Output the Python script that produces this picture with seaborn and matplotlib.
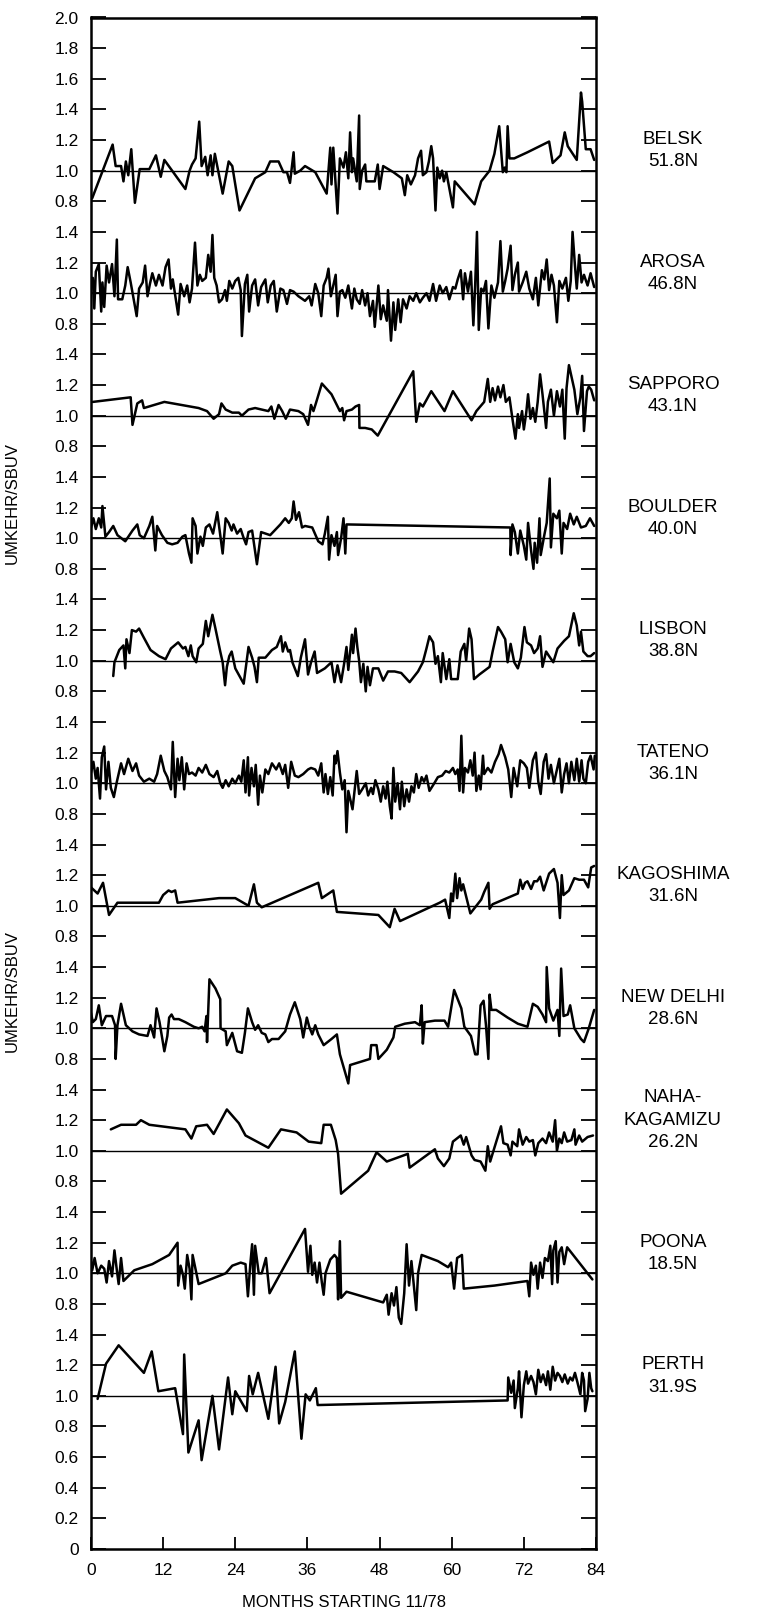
import matplotlib
matplotlib.use("Agg")
import matplotlib.pyplot as plt
import numpy as np
import pandas as pd
import seaborn as sns

# Estaciones y latitudes
stations = ["BELSK", "AROSA", "SAPPORO", "BOULDER", "LISBON", "TATENO",
            "KAGOSHIMA", "NEW DELHI", "NAHA-\nKAGAMIZU", "POONA", "PERTH"]
latitudes = ["51.8N", "46.8N", "43.1N", "40.0N", "38.8N", "36.1N",
             "31.6N", "28.6N", "26.2N", "18.5N", "31.9S"]

# (mes, UMKEHR/SBUV)
belsk = [(0.2,0.82),(3.6,1.17),(4.1,1.03),(5.0,1.03),(5.4,0.93),(5.8,1.06),(6.2,0.97),(6.7,1.14),(7.3,0.79),(8.1,1.01),(9.7,1.01),(10.8,1.10),(11.6,0.96),(12.2,1.07),(15.7,0.88),(16.4,1.00),(16.8,1.04),(17.4,1.08),(18.0,1.32),(18.4,1.03),(19.0,1.09),(19.4,0.97),(19.9,1.10),(20.2,0.97),(20.6,1.11),(21.9,0.85),(22.9,1.06),(23.5,1.03),(24.7,0.74),(27.3,0.95),(29.0,0.99),(29.8,1.06),(31.2,1.06),(32.0,0.99),(32.6,0.99),(33.1,0.92),(33.7,1.12),(33.9,0.98),(34.8,1.00),(35.6,1.03),(37.3,0.99),(39.2,0.85),(39.8,1.15),(40.0,0.91),(40.3,1.15),(41.0,0.72),(41.4,1.08),(42.0,1.02),(42.4,1.12),(42.8,0.95),(43.1,1.25),(43.4,0.99),(43.6,1.08),(44.2,0.93),(44.6,1.36),(44.7,0.88),(45.1,1.00),(45.6,1.04),(45.8,0.93),(47.2,0.93),(47.7,1.04),(48.0,0.88),(48.6,1.03),(50.3,0.99),(51.7,0.95),(52.2,0.84),(52.6,0.97),(53.2,0.91),(53.9,0.97),(54.4,1.08),(54.9,1.13),(55.2,0.97),(55.8,0.99),(56.2,1.06),(56.6,1.16),(56.9,1.08),(57.3,0.74),(57.6,1.02),(58.0,0.95),(58.4,1.00),(58.7,0.93),(59.1,0.99),(60.2,0.76),(60.5,0.93),(63.8,0.78),(64.9,0.93),(66.3,1.00),(67.1,1.11),(67.9,1.29),(68.5,0.99),(68.8,1.02),(69.1,0.99),(69.3,1.29),(69.6,1.08),(70.4,1.08),(72.6,1.12),(76.2,1.19),(76.8,1.05),(78.1,1.10),(78.8,1.25),(79.3,1.16),(80.8,1.07),(81.5,1.51),(81.7,1.45),(82.3,1.14),(83.1,1.14),(83.7,1.07)]

arosa = [(0.0,1.05),(0.3,1.10),(0.55,0.90),(0.8,1.14),(1.3,1.19),(1.7,0.88),(1.9,1.07),(2.2,0.91),(2.6,1.18),(3.0,1.07),(3.5,1.19),(3.9,0.98),(4.3,1.35),(4.5,0.96),(5.2,0.96),(5.7,1.05),(6.1,1.17),(6.6,1.07),(7.2,0.94),(7.6,0.85),(8.0,1.03),(8.6,1.07),(9.0,1.18),(9.4,0.98),(9.8,1.06),(10.2,1.13),(10.8,1.05),(11.3,1.12),(11.9,1.05),(12.4,1.17),(12.9,1.22),(13.3,1.03),(13.6,1.09),(14.1,0.96),(14.5,0.86),(14.9,1.06),(15.5,0.98),(16.0,1.05),(16.4,0.94),(16.8,1.03),(17.3,1.33),(17.7,1.05),(18.1,1.12),(18.5,1.08),(19.1,1.10),(19.5,1.25),(19.9,1.14),(20.2,1.38),(20.5,1.10),(20.9,1.05),(21.3,0.94),(21.8,0.96),(22.3,1.02),(22.6,0.95),(23.0,1.08),(23.5,1.03),(24.0,1.08),(24.5,1.10),(24.9,1.02),(25.1,0.72),(25.6,1.06),(26.0,1.12),(26.3,0.88),(26.8,1.05),(27.3,1.09),(27.8,0.92),(28.3,1.04),(29.0,1.09),(29.4,0.94),(29.9,1.05),(30.4,1.08),(30.9,0.88),(31.5,1.03),(32.0,1.02),(32.6,0.93),(33.1,1.02),(33.7,1.01),(34.5,0.98),(35.6,0.95),(36.3,0.98),(36.7,0.92),(37.3,1.06),(37.8,1.00),(38.3,0.85),(38.7,1.05),(39.2,1.10),(39.5,1.16),(39.9,0.98),(40.3,1.05),(40.7,1.12),(41.0,0.85),(41.4,1.01),(41.8,1.02),(42.3,0.97),(42.8,1.05),(43.4,0.90),(43.8,1.03),(44.2,0.96),(44.7,0.93),(45.1,1.02),(45.6,0.92),(46.0,1.00),(46.4,0.85),(46.9,0.95),(47.2,0.78),(47.8,1.05),(48.2,0.83),(48.6,0.92),(49.2,0.82),(49.4,1.02),(49.9,0.69),(50.3,0.94),(50.6,0.76),(51.1,0.96),(51.5,0.81),(51.9,0.96),(52.5,0.90),(53.0,0.98),(53.6,0.95),(54.1,1.00),(54.7,0.94),(55.2,0.97),(55.8,1.00),(56.3,0.95),(56.9,1.06),(57.4,0.95),(58.0,1.05),(58.5,1.00),(59.1,1.04),(59.6,0.96),(60.2,1.04),(60.6,1.03),(61.0,1.09),(61.5,1.15),(61.9,0.96),(62.2,1.13),(62.7,1.01),(63.2,1.14),(63.6,0.79),(63.9,1.05),(64.2,1.40),(64.5,0.76),(64.9,1.03),(65.3,1.01),(65.7,1.08),(66.1,0.77),(66.6,1.05),(67.1,0.97),(67.7,1.07),(68.1,1.34),(68.5,1.01),(68.9,1.08),(69.3,1.16),(69.8,1.31),(70.1,1.02),(70.5,1.12),(71.0,1.20),(71.2,1.01),(71.8,1.07),(72.4,1.14),(72.9,1.03),(73.5,0.96),(74.0,1.10),(74.4,0.92),(75.0,1.15),(75.4,1.09),(75.8,1.22),(76.2,1.02),(76.6,1.12),(77.0,1.05),(77.5,0.81),(77.9,1.08),(78.4,1.03),(79.0,1.10),(79.4,0.95),(79.8,1.08),(80.1,1.40),(80.5,1.18),(80.8,1.03),(81.2,1.25),(81.6,1.07),(82.0,1.12),(82.6,1.05),(83.1,1.13),(83.7,1.04)]

sapporo = [(0.3,1.09),(6.6,1.12),(6.9,0.94),(7.7,1.08),(8.5,1.10),(8.8,1.05),(12.2,1.09),(17.9,1.05),(19.3,1.03),(20.4,0.98),(21.3,1.01),(21.7,1.08),(22.4,1.04),(23.5,1.02),(24.6,1.02),(25.1,1.00),(26.2,1.04),(27.3,1.05),(29.5,1.03),(30.0,1.06),(30.5,0.98),(31.2,1.07),(31.8,1.03),(32.4,0.98),(33.1,1.04),(34.5,1.03),(35.3,1.01),(36.1,0.94),(36.6,1.07),(37.0,1.03),(37.4,1.08),(38.4,1.21),(40.0,1.14),(41.4,1.03),(41.8,1.05),(42.1,0.97),(42.5,1.03),(43.4,1.04),(44.0,1.06),(44.6,1.07),(44.65,0.92),(45.6,0.92),(46.7,0.91),(47.7,0.87),(53.6,1.29),(54.1,0.96),(54.7,1.08),(55.2,1.06),(56.6,1.16),(58.8,1.03),(60.2,1.16),(63.3,0.97),(64.1,1.03),(65.4,1.09),(66.0,1.24),(66.4,1.09),(66.8,1.18),(67.2,1.10),(67.7,1.19),(68.1,1.12),(68.6,1.20),(69.0,1.09),(69.6,1.12),(70.1,0.98),(70.6,0.85),(71.0,1.01),(71.2,0.92),(71.7,1.03),(72.0,0.91),(72.4,1.02),(72.7,1.14),(73.1,0.98),(73.5,1.05),(73.9,0.96),(74.3,1.09),(74.7,1.27),(75.1,1.14),(75.7,0.92),(76.0,1.09),(76.5,1.17),(77.0,1.00),(77.5,1.16),(78.0,1.06),(78.4,1.17),(78.8,0.85),(79.1,1.18),(79.5,1.33),(80.4,1.17),(80.9,1.01),(81.4,1.12),(81.7,1.26),(82.0,0.90),(82.5,1.16),(82.8,1.19),(83.2,1.17),(83.7,1.10)]

boulder = [(0.0,1.07),(0.4,1.13),(0.8,1.06),(1.3,1.13),(1.7,1.07),(1.9,1.21),(2.4,1.01),(3.0,1.04),(3.7,1.08),(4.4,1.02),(5.7,0.98),(6.9,1.05),(7.7,1.09),(8.1,1.02),(8.8,1.00),(9.7,1.08),(10.2,1.14),(10.7,0.92),(11.0,1.08),(11.8,1.02),(12.7,0.97),(13.5,0.96),(14.4,0.97),(15.2,1.01),(15.7,1.02),(16.3,0.90),(16.7,0.84),(16.9,1.13),(17.4,1.08),(17.7,0.90),(18.2,1.01),(18.6,0.95),(19.1,1.07),(19.7,1.09),(20.3,1.03),(21.0,1.17),(21.5,1.02),(21.9,0.90),(22.4,1.13),(22.9,1.10),(23.4,1.05),(23.7,1.09),(24.3,1.03),(24.9,1.06),(25.4,1.00),(25.8,0.96),(26.2,1.04),(26.8,1.05),(27.6,0.83),(28.3,1.04),(29.8,1.02),(31.5,1.09),(32.3,1.13),(32.9,1.10),(33.4,1.13),(33.7,1.24),(34.1,1.12),(34.6,1.17),(35.1,1.07),(35.6,1.08),(36.8,1.07),(37.8,0.98),(38.5,0.96),(38.9,1.03),(39.4,1.14),(39.6,0.86),(40.0,1.02),(40.5,0.95),(40.9,1.04),(41.1,0.89),(41.6,1.00),(42.0,1.13),(42.3,0.90),(42.5,1.09),(69.75,1.07),(69.8,0.89),(70.1,1.09),(70.5,1.04),(71.0,0.90),(71.4,1.05),(72.0,0.95),(72.4,0.86),(72.7,1.10),(73.2,0.92),(73.6,0.80),(73.8,0.97),(74.2,0.84),(74.6,1.13),(74.8,0.89),(75.4,1.02),(75.8,1.10),(76.3,1.39),(76.5,0.94),(76.9,1.16),(77.5,1.13),(77.9,1.18),(78.3,0.90),(78.6,1.10),(79.2,1.06),(79.7,1.16),(80.3,1.09),(80.8,1.14),(81.5,1.07),(82.3,1.08),(83.0,1.13),(83.7,1.08)]

lisbon = [(3.7,0.90),(3.9,0.99),(4.7,1.07),(5.4,1.10),(5.7,0.95),(5.9,1.14),(6.4,1.05),(6.8,1.20),(7.5,1.19),(8.0,1.21),(8.8,1.15),(9.9,1.07),(11.3,1.03),(12.4,1.01),(13.3,1.08),(14.5,1.12),(15.3,1.08),(15.7,1.09),(16.2,1.03),(16.6,1.10),(16.9,1.03),(17.5,0.99),(17.9,1.08),(18.6,1.11),(19.1,1.26),(19.5,1.16),(20.2,1.30),(20.7,1.21),(21.5,1.06),(21.9,0.99),(22.3,0.84),(22.6,0.96),(23.0,1.03),(23.4,1.06),(24.0,0.95),(25.4,0.85),(26.2,1.09),(26.8,1.02),(27.2,0.96),(27.6,0.86),(27.9,1.02),(29.0,1.02),(30.1,1.07),(30.9,1.09),(31.6,1.16),(31.9,1.06),(32.3,1.12),(32.8,1.06),(33.1,1.07),(33.5,0.99),(33.9,0.95),(34.4,0.90),(34.9,1.02),(35.6,1.14),(36.1,0.91),(36.6,0.99),(37.2,1.06),(37.6,0.92),(38.9,0.95),(40.0,0.99),(40.5,0.86),(41.0,0.97),(41.6,0.86),(42.1,0.98),(42.5,1.09),(42.8,0.94),(43.4,1.17),(43.6,1.05),(44.0,1.21),(44.3,1.09),(44.6,1.00),(44.9,0.86),(45.3,0.98),(45.7,0.80),(46.0,0.96),(46.4,0.84),(46.9,0.95),(47.8,0.95),(48.6,0.87),(49.4,0.93),(50.5,0.93),(51.6,0.92),(53.0,0.86),(54.4,0.93),(55.2,0.99),(55.8,1.08),(56.3,1.16),(56.9,1.12),(57.3,0.98),(57.7,1.03),(58.2,0.86),(58.5,1.05),(59.1,0.88),(59.6,1.01),(59.9,0.88),(61.0,0.88),(61.5,1.06),(62.1,1.11),(62.4,1.00),(62.9,1.21),(63.3,1.14),(63.7,0.88),(64.6,0.91),(66.3,0.96),(66.8,1.06),(67.7,1.22),(68.2,1.19),(68.9,1.14),(69.3,0.99),(69.8,1.11),(70.4,0.99),(71.0,0.95),(71.5,1.02),(72.1,1.22),(72.5,1.12),(73.2,1.10),(73.7,1.05),(74.3,1.08),(74.7,1.16),(75.1,0.96),(75.7,1.06),(76.2,1.03),(76.9,0.99),(77.6,1.08),(78.7,1.13),(79.5,1.16),(80.3,1.31),(80.8,1.23),(81.2,1.10),(81.5,1.19),(81.9,1.06),(82.6,1.03),(83.1,1.03),(83.7,1.05)]

tateno = [(0.0,1.07),(0.4,1.14),(0.8,1.03),(1.1,1.10),(1.5,0.90),(1.8,1.17),(2.2,1.24),(2.5,0.96),(2.9,1.14),(3.3,0.97),(3.8,0.91),(4.3,1.01),(5.0,1.13),(5.5,1.06),(6.2,1.16),(6.9,1.08),(7.5,1.13),(8.0,1.05),(8.8,1.01),(9.7,1.03),(10.5,1.01),(11.0,1.06),(11.6,1.18),(12.2,1.08),(12.7,1.04),(13.3,0.96),(13.6,1.27),(14.0,0.91),(14.4,1.16),(14.7,1.02),(15.1,1.17),(15.5,0.96),(15.9,1.13),(16.3,1.06),(16.8,1.07),(17.4,1.05),(17.9,1.10),(18.5,1.07),(19.1,1.12),(19.7,1.06),(20.4,1.04),(21.0,1.08),(21.5,1.00),(21.9,0.97),(22.4,1.02),(22.9,0.98),(23.5,1.03),(24.0,1.00),(24.6,1.05),(25.0,1.01),(25.4,1.15),(25.7,0.94),(26.1,1.17),(26.3,0.92),(26.7,1.10),(27.1,0.98),(27.4,1.12),(27.8,0.86),(28.1,1.05),(28.5,0.94),(29.0,1.09),(29.5,1.06),(30.1,1.13),(30.8,1.09),(31.3,1.13),(31.9,1.06),(32.3,1.12),(32.8,0.97),(33.3,1.14),(33.9,1.05),(34.5,1.04),(35.3,1.06),(36.1,1.09),(36.6,1.10),(37.3,1.09),(37.8,1.05),(38.3,1.13),(38.7,0.94),(39.0,1.06),(39.4,0.93),(39.8,1.04),(40.2,0.92),(40.5,1.18),(40.7,1.13),(41.0,1.21),(41.4,1.07),(41.8,0.96),(42.2,1.02),(42.5,0.68),(42.8,0.95),(43.2,0.88),(43.5,0.83),(43.8,0.94),(44.2,1.08),(44.6,0.93),(45.1,0.96),(45.7,1.00),(46.1,0.92),(46.6,0.97),(46.9,0.93),(47.3,1.02),(47.8,0.96),(48.2,0.88),(48.6,0.98),(49.0,0.90),(49.3,1.01),(49.7,0.85),(50.0,0.77),(50.3,1.10),(50.6,0.88),(51.0,1.00),(51.4,0.83),(51.7,1.01),(52.1,0.85),(52.5,0.96),(52.9,0.88),(53.3,0.98),(53.7,0.94),(54.1,1.06),(54.5,0.97),(55.0,1.04),(55.4,1.01),(55.8,1.05),(56.3,0.95),(57.1,1.00),(57.7,1.04),(58.4,1.05),(59.0,1.08),(59.6,1.07),(60.2,1.10),(60.6,1.06),(61.0,1.09),(61.3,0.95),(61.6,1.31),(61.9,0.94),(62.2,1.10),(62.7,1.07),(63.1,1.15),(63.5,1.05),(63.8,1.20),(64.1,0.95),(64.5,1.05),(64.8,0.96),(65.2,1.18),(65.4,1.06),(66.0,1.10),(66.6,1.07),(67.2,1.14),(67.8,1.19),(68.2,1.25),(68.9,1.17),(69.4,1.09),(69.9,0.91),(70.3,1.10),(70.9,0.98),(71.4,1.15),(72.0,1.13),(72.5,1.10),(72.9,0.97),(73.5,1.15),(74.0,1.20),(74.4,1.01),(74.8,0.93),(75.3,1.14),(75.7,1.19),(76.1,1.03),(76.5,1.12),(77.0,1.00),(77.5,1.09),(77.9,1.16),(78.3,0.94),(78.7,1.06),(79.1,1.13),(79.5,1.00),(79.9,1.14),(80.4,1.02),(80.8,1.16),(81.2,1.01),(81.6,1.15),(81.9,1.03),(82.3,1.00),(82.7,1.14),(83.1,1.18),(83.6,1.09),(83.8,1.18)]

kagoshima = [(0.0,1.12),(1.1,1.08),(2.0,1.15),(3.0,0.94),(4.4,1.02),(7.5,1.02),(11.3,1.02),(12.0,1.07),(12.9,1.10),(13.4,1.09),(14.0,1.10),(14.4,1.02),(21.3,1.05),(24.0,1.05),(26.2,1.00),(27.1,1.14),(27.6,1.02),(28.4,0.99),(37.8,1.15),(38.4,1.05),(40.3,1.10),(40.9,0.96),(47.8,0.94),(49.7,0.86),(50.5,0.98),(51.4,0.90),(58.0,1.02),(58.9,1.04),(59.6,0.92),(59.9,1.08),(60.2,1.03),(60.6,1.21),(60.9,1.05),(61.3,1.18),(61.6,1.10),(61.9,1.14),(63.1,0.95),(64.9,1.04),(65.4,1.09),(66.1,1.15),(66.3,0.98),(66.8,1.01),(71.0,1.08),(71.4,1.17),(71.8,1.11),(72.2,1.15),(72.6,1.16),(73.2,1.11),(73.7,1.16),(74.2,1.16),(74.7,1.19),(75.3,1.10),(76.2,1.21),(77.0,1.24),(77.6,1.15),(78.0,0.92),(78.3,1.20),(78.6,1.07),(79.5,1.10),(80.4,1.18),(81.2,1.17),(82.0,1.17),(82.7,1.12),(83.2,1.25),(83.7,1.26)]

new_delhi = [(0.0,1.10),(0.3,1.04),(0.8,1.06),(1.3,1.15),(1.8,1.02),(2.5,1.08),(3.5,1.08),(4.0,1.02),(4.1,0.80),(4.4,1.02),(5.0,1.16),(5.8,1.02),(6.9,0.98),(8.0,0.96),(9.4,0.95),(9.9,1.02),(10.5,0.94),(10.9,1.13),(11.4,1.04),(12.2,0.85),(12.7,0.95),(13.0,1.07),(13.4,1.09),(13.8,1.06),(14.6,1.06),(15.7,1.04),(17.1,1.01),(17.9,1.00),(18.5,1.01),(18.9,0.98),(19.2,1.08),(19.3,0.91),(19.7,1.32),(20.7,1.26),(21.5,1.19),(21.55,1.00),(22.4,0.98),(22.6,0.89),(23.5,0.97),(24.3,0.85),(25.1,0.84),(25.6,0.97),(26.1,1.13),(26.8,1.04),(27.3,0.99),(27.8,1.02),(28.4,0.97),(29.0,0.96),(29.5,0.91),(30.1,0.93),(31.2,0.93),(32.3,0.98),(33.1,1.09),(33.9,1.17),(34.8,1.06),(35.3,0.94),(35.9,1.07),(36.3,1.01),(36.8,0.96),(37.3,1.02),(37.8,0.96),(38.7,0.89),(40.0,0.93),(40.9,0.96),(41.4,0.83),(42.8,0.64),(43.1,0.76),(46.4,0.80),(46.6,0.89),(47.5,0.89),(47.8,0.80),(49.2,0.86),(50.3,0.94),(50.6,1.01),(52.2,1.03),(53.9,1.04),(54.7,1.02),(55.0,1.15),(55.2,0.90),(55.5,1.04),(57.2,1.05),(58.8,1.05),(59.4,1.01),(60.4,1.25),(61.6,1.13),(62.1,1.01),(63.2,0.95),(63.9,0.83),(64.3,0.83),(64.8,1.15),(65.3,1.18),(65.7,1.02),(66.1,0.80),(66.3,1.22),(66.6,1.12),(67.4,1.12),(69.3,1.07),(71.0,1.03),(72.6,1.01),(73.5,1.16),(74.3,1.14),(75.1,1.09),(75.7,1.04),(75.8,1.40),(76.2,1.13),(76.9,1.05),(77.6,1.12),(77.9,0.95),(78.2,1.39),(78.6,1.08),(79.3,1.09),(79.7,1.15),(80.4,1.00),(81.5,0.93),(82.0,0.91),(82.8,1.00),(83.7,1.12)]

naha = [(3.3,1.14),(5.0,1.17),(7.5,1.17),(8.3,1.20),(9.7,1.17),(15.7,1.14),(16.7,1.08),(17.5,1.16),(19.3,1.17),(20.4,1.11),(22.6,1.27),(24.6,1.18),(25.7,1.10),(29.5,1.02),(31.6,1.14),(34.2,1.12),(36.2,1.06),(38.3,1.05),(38.7,1.17),(39.9,1.17),(40.7,1.07),(41.1,0.98),(41.6,0.72),(46.1,0.87),(47.5,0.99),(49.2,0.93),(52.7,0.98),(53.0,0.89),(57.2,1.01),(57.7,0.95),(58.7,0.90),(59.6,0.95),(60.2,1.06),(61.5,1.10),(62.0,1.04),(62.4,1.09),(63.3,0.97),(63.8,0.94),(64.8,0.93),(65.6,0.87),(66.0,1.03),(66.4,0.93),(67.1,1.02),(68.2,1.16),(68.6,1.05),(69.3,1.04),(69.8,0.97),(70.1,1.06),(70.9,1.03),(71.2,1.14),(71.8,1.04),(72.4,1.09),(72.9,1.06),(73.5,1.07),(73.9,0.97),(74.4,1.05),(75.1,1.08),(75.7,1.05),(76.2,1.12),(76.8,1.06),(77.2,1.20),(77.5,1.00),(77.9,1.08),(78.3,1.05),(78.7,1.12),(79.2,1.06),(79.9,1.07),(80.4,1.14),(80.6,1.04),(81.2,1.10),(81.7,1.06),(82.6,1.09),(83.5,1.10)]

poona = [(0.0,1.08),(0.2,1.02),(0.6,1.10),(1.1,1.00),(1.7,1.05),(2.2,1.03),(2.6,0.94),(3.0,1.08),(3.5,0.98),(3.9,1.15),(4.3,1.02),(4.6,0.93),(5.0,1.10),(5.4,0.95),(7.2,1.02),(10.2,1.06),(13.0,1.12),(14.4,1.20),(14.5,0.92),(14.9,1.05),(15.3,0.99),(15.6,0.90),(16.0,1.12),(16.4,1.03),(16.7,0.83),(16.9,1.12),(17.9,0.93),(22.4,1.00),(23.5,1.05),(24.9,1.07),(25.7,1.06),(26.1,0.85),(26.5,1.06),(26.8,1.19),(27.1,0.86),(27.3,1.18),(27.9,1.00),(28.4,1.00),(29.1,1.10),(29.7,0.87),(35.6,1.29),(36.1,1.01),(36.5,1.18),(36.8,0.99),(37.2,1.07),(37.6,0.94),(38.0,1.07),(38.4,0.94),(38.7,0.86),(39.0,1.00),(39.8,1.09),(40.5,1.12),(40.9,1.10),(41.1,0.83),(41.4,1.21),(41.6,0.84),(42.5,0.88),(48.6,0.81),(49.2,0.86),(49.5,0.73),(50.0,0.87),(50.4,0.79),(50.8,0.91),(51.2,0.71),(51.6,0.67),(52.1,0.87),(52.5,1.19),(52.9,0.92),(53.3,1.08),(53.7,0.92),(54.1,0.76),(54.4,1.00),(55.0,1.12),(57.7,1.08),(59.4,1.04),(59.9,1.07),(60.4,0.90),(60.9,1.10),(61.7,1.12),(62.0,0.90),(67.1,0.92),(72.6,0.95),(72.9,0.85),(73.2,1.07),(73.6,0.99),(74.0,1.05),(74.3,0.90),(74.7,1.07),(75.1,0.97),(75.5,1.10),(76.0,1.08),(76.4,1.18),(76.7,0.93),(76.9,1.15),(77.3,1.21),(77.6,0.94),(77.9,1.14),(78.3,1.17),(78.7,1.06),(79.2,1.17),(83.4,0.96)]

perth = [(1.1,0.98),(2.5,1.21),(4.6,1.33),(8.8,1.15),(10.1,1.29),(11.2,1.03),(14.0,1.05),(15.3,0.75),(15.5,1.27),(16.2,0.63),(17.9,0.84),(18.4,0.58),(20.2,1.00),(21.3,0.65),(22.8,1.12),(23.5,0.88),(24.0,1.03),(25.9,0.90),(26.3,1.13),(26.9,1.01),(27.8,1.15),(29.5,0.85),(30.7,1.19),(31.3,0.82),(32.3,0.96),(33.9,1.29),(35.0,0.72),(35.7,1.01),(36.4,0.97),(37.4,1.05),(37.7,0.94),(69.3,0.97),(69.4,1.12),(69.9,1.02),(70.3,1.10),(70.5,0.92),(71.0,1.05),(71.2,1.16),(71.6,0.86),(72.0,1.07),(72.4,1.16),(72.7,1.08),(73.2,1.13),(73.6,1.09),(74.0,1.01),(74.4,1.17),(74.8,1.09),(75.2,1.14),(75.7,1.07),(76.0,1.16),(76.4,1.04),(76.8,1.19),(77.2,1.10),(77.6,1.15),(78.0,1.13),(78.4,1.09),(78.8,1.14),(79.3,1.08),(79.7,1.12),(80.1,1.10),(80.5,1.15),(80.9,1.09),(81.4,1.01),(81.7,1.15),(82.0,1.10),(82.2,0.90),(82.6,0.98),(82.9,1.15),(83.2,1.05),(83.4,1.03)]

station_data = [belsk, arosa, sapporo, boulder, lisbon, tateno,
                kagoshima, new_delhi, naha, poona, perth]

# etiquetas del eje y: cada panel repite 1.4 ... 0.8
ytick_labels = (["2.0", "1.8", "1.6", "1.4", "1.2", "1.0", "0.8"]
                + ["1.4", "1.2", "1.0", "0.8"] * 10
                + ["0.6", "0.4", "0.2", "0"])
xticks = [0, 12, 24, 36, 48, 60, 72, 84]

panel_step = 0.8  # desplazamiento vertical entre estaciones

sns.set_style("ticks")
plt.rcParams['font.family'] = ['Liberation Sans', 'DejaVu Sans']
plt.rcParams['text.color'] = 'black'
plt.rcParams['axes.labelcolor'] = 'black'
plt.rcParams['xtick.color'] = 'black'
plt.rcParams['ytick.color'] = 'black'
plt.rcParams['axes.edgecolor'] = 'black'

# tabla larga con el desplazamiento aplicado
rows = []
for k, (name, pares) in enumerate(zip(stations, station_data)):
    for mes, val in pares:
        rows.append({'estacion': name, 'mes': mes, 'y': val - panel_step * k})
df = pd.DataFrame(rows)

fig = plt.figure(figsize=(7.62, 16.18), dpi=100)
ax = fig.add_axes([91 / 762, 1 - 1549 / 1618, 505 / 762, (1549 - 17.5) / 1618])

sns.lineplot(data=df, x='mes', y='y', units='estacion', estimator=None,
             sort=False, color='black', linewidth=1.8, ax=ax)

# lineas de referencia 1.0 y nombres de estacion
for k, (name, lat) in enumerate(zip(stations, latitudes)):
    base = 1.0 - panel_step * k
    ax.axhline(base, color='black', linewidth=1.0, zorder=1)
    label = name + "\n" + lat
    ax.text(96.8, base + (0.20 if "\n" in name else 0.13), label,
            ha='center', va='center', fontsize=13.5, linespacing=1.4,
            clip_on=False)

ax.set_xlim(0, 84)
ax.set_ylim(-8.0, 2.0)
yt = np.round(np.arange(2.0, -8.0 - 1e-9, -0.2), 2)
ax.set_yticks(yt)
ax.set_yticklabels(ytick_labels)
ax.set_xticks(xticks)
ax.set_xticklabels([str(t) for t in xticks])
ax.tick_params(axis='y', direction='in', length=11, width=1.3, labelsize=12.5,
               left=True, right=True, pad=9)
ax.tick_params(axis='x', direction='in', length=9, width=1.3, labelsize=12.5,
               pad=10)
for s in ax.spines.values():
    s.set_linewidth(1.8)
ax.set_xlabel('MONTHS STARTING 11/78', fontsize=12, labelpad=12)
ax.set_ylabel('')

fig.text(12 / 762, 1 - 503 / 1618, 'UMKEHR/SBUV', rotation=90,
         ha='center', va='center', fontsize=12)
fig.text(12 / 762, 1 - 991 / 1618, 'UMKEHR/SBUV', rotation=90,
         ha='center', va='center', fontsize=12)

plt.savefig('out.png', dpi=100)
plt.close(fig)
